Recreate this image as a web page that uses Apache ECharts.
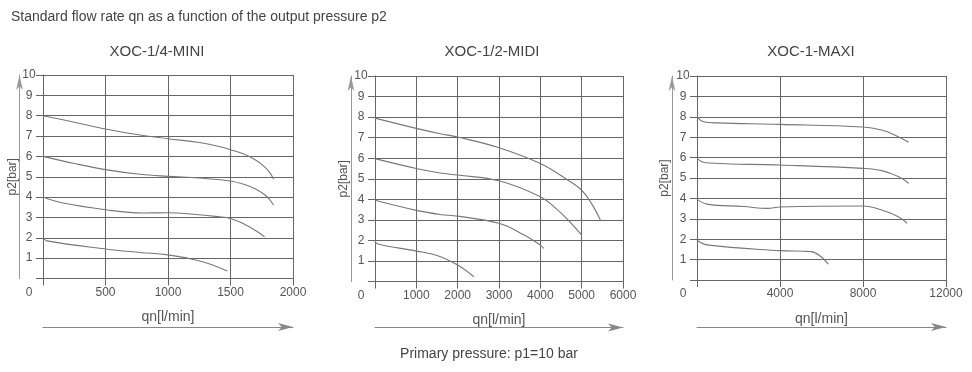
<!DOCTYPE html>
<html><head><meta charset="utf-8">
<script src="https://cdn.jsdelivr.net/npm/echarts@6/dist/echarts.min.js"></script>
<style>html,body{margin:0;padding:0;background:#fff}#c{width:972px;height:372px}</style>
</head><body><div id="c"></div>
<script>
const mainTitle = 'Standard flow rate qn as a function of the output pressure p2';
const chartNames = ['XOC-1/4-MINI', 'XOC-1/2-MIDI', 'XOC-1-MAXI'];
const footNote = 'Primary pressure: p1=10 bar';
const xName = 'qn[l/min]';
const yName = 'p2[bar]';
const xMax = [2000, 6000, 12000];
const xStep = [500, 1000, 4000];

// MINI curves [qn, p2]
const mini8 = [[0,8.0],[250,7.68],[500,7.35],[775,7.05],[1000,6.87],[1250,6.68],[1400,6.5],[1500,6.33],[1612,6.1],[1700,5.82],[1760,5.56],[1810,5.24],[1845,4.88]];
const mini6 = [[0,6.0],[250,5.65],[500,5.35],[775,5.12],[1000,5.02],[1250,4.94],[1500,4.79],[1600,4.64],[1700,4.4],[1766,4.15],[1810,3.9],[1845,3.6]];
const mini4 = [[0,4.0],[150,3.72],[500,3.38],[800,3.22],[1000,3.23],[1200,3.16],[1400,3.04],[1500,2.95],[1600,2.7],[1700,2.36],[1772,2.05]];
const mini2 = [[0,2.0],[30,1.85],[500,1.45],[775,1.28],[1000,1.16],[1230,0.9],[1366,0.64],[1475,0.37]];
// MIDI curves
const midi8 = [[0,7.95],[1000,7.45],[1578,7.19],[2000,7.03],[3000,6.51],[4000,5.74],[4668,4.93],[5000,4.44],[5236,3.8],[5463,2.95]];
const midi6 = [[0,5.98],[1000,5.5],[1578,5.28],[2000,5.18],[3000,4.9],[4000,4.12],[4424,3.47],[4748,2.83],[5000,2.26]];
const midi4 = [[0,3.95],[1000,3.46],[1578,3.26],[2000,3.18],[3000,2.83],[3610,2.26],[4000,1.77],[4083,1.61]];
const midi2 = [[0,2.0],[50,1.84],[1000,1.48],[1500,1.27],[2000,0.8],[2390,0.23]];
// MAXI curves
const maxi8 = [[0,8.0],[320,7.76],[970,7.7],[4000,7.63],[8000,7.5],[8900,7.35],[9550,7.1],[10200,6.75]];
const maxi6 = [[0,5.96],[400,5.75],[4000,5.64],[8000,5.47],[8900,5.36],[9700,5.07],[10200,4.74]];
const maxi4 = [[0,3.95],[480,3.72],[2260,3.6],[3390,3.51],[4000,3.58],[8000,3.63],[8900,3.43],[9700,3.1],[10130,2.78]];
const maxi2 = [[0,1.96],[480,1.72],[4000,1.44],[5500,1.39],[5980,1.14],[6330,0.78]];
const curves = [[mini8, mini6, mini4, mini2],[midi8, midi6, midi4, midi2],[maxi8, maxi6, maxi4, maxi2]];

const FONT = 'Liberation Sans, Arial, sans-serif';
const GRID = '#666';
const TXT = '#555';
const grids = [
  {left: 43, right: 679, top: 75, bottom: 93.5},
  {left: 375, right: 349, top: 76, bottom: 90.5},
  {left: 697, right: 26, top: 76, bottom: 92}
];
const titleX = [152, 487, 806];
const yArrowOff = [23.5, 24, 25];
const xArrowOff = [48.5, 46, 47];

const xAxes = [], yAxes = [], series = [], titles = [];
titles.push({text: mainTitle, left: 6, top: 5, textStyle: {fontFamily: FONT, fontSize: 14, fontWeight: 'normal', color: '#444'}});
titles.push({text: footNote, left: 484, textAlign: 'center', top: 342, textStyle: {fontFamily: FONT, fontSize: 14, fontWeight: 'normal', color: '#444'}});
grids.forEach((g, i) => {
  g.outerBoundsMode = 'none';
  g.containLabel = false;
  titles.push({text: chartNames[i], left: titleX[i], textAlign: 'center', top: 39, textStyle: {fontFamily: FONT, fontSize: 15, fontWeight: 'normal', color: '#444'}});
  xAxes.push({
    type: 'value', gridIndex: i, min: 0, max: xMax[i], interval: xStep[i],
    name: xName, nameLocation: 'middle', nameGap: 32,
    nameTextStyle: {fontFamily: FONT, fontSize: 14, color: TXT},
    axisLine: {show: true, onZero: false, lineStyle: {color: GRID, width: 1}},
    axisTick: {show: true, length: 7, lineStyle: {color: GRID}},
    splitLine: {show: true, lineStyle: {color: GRID, width: 1}},
    axisLabel: {fontFamily: FONT, fontSize: 12, color: TXT, margin: 8,
      formatter: v => v === 0 ? '{z|0}' : String(v),
      rich: {z: {fontFamily: FONT, fontSize: 12, color: TXT, padding: [0, 28, 0, 0]}}}
  });
  xAxes.push({
    type: 'value', gridIndex: i, min: 0, max: xMax[i], position: 'bottom', offset: xArrowOff[i],
    axisLine: {show: true, onZero: false, symbol: ['none', 'arrow'], symbolSize: [6, 15], lineStyle: {color: '#888', width: 1}},
    axisTick: {show: false}, axisLabel: {show: false}, splitLine: {show: false}
  });
  yAxes.push({
    type: 'value', gridIndex: i, min: 0, max: 10, interval: 1,
    axisLine: {show: true, onZero: false, lineStyle: {color: GRID, width: 1}},
    axisTick: {show: true, length: 7, lineStyle: {color: GRID}},
    splitLine: {show: true, lineStyle: {color: GRID, width: 1}},
    axisLabel: {fontFamily: FONT, fontSize: 12, color: TXT, margin: 14, align: 'center',
      formatter: v => v === 0 ? '' : String(v)}
  });
  yAxes.push({
    type: 'value', gridIndex: i, min: 0, max: 10, position: 'left', offset: yArrowOff[i],
    name: yName, nameLocation: 'middle', nameGap: 1, nameRotate: 90,
    nameTextStyle: {fontFamily: FONT, fontSize: 12, color: TXT},
    axisLine: {show: true, onZero: false, symbol: ['none', 'arrow'], symbolSize: [5, 15], lineStyle: {color: '#999', width: 1}},
    axisTick: {show: false}, axisLabel: {show: false}, splitLine: {show: false}
  });
  curves[i].forEach(c => {
    series.push({
      type: 'line', xAxisIndex: i * 2, yAxisIndex: i * 2, data: c,
      smooth: 0.4, showSymbol: false, symbol: 'none',
      lineStyle: {color: '#777', width: 1.1}, silent: true
    });
  });
});

const chart = echarts.init(document.getElementById('c'), null, {renderer: 'canvas'});
chart.setOption({
  animation: false, backgroundColor: '#fff',
  title: titles, grid: grids, xAxis: xAxes, yAxis: yAxes, series: series
});
</script></body></html>
